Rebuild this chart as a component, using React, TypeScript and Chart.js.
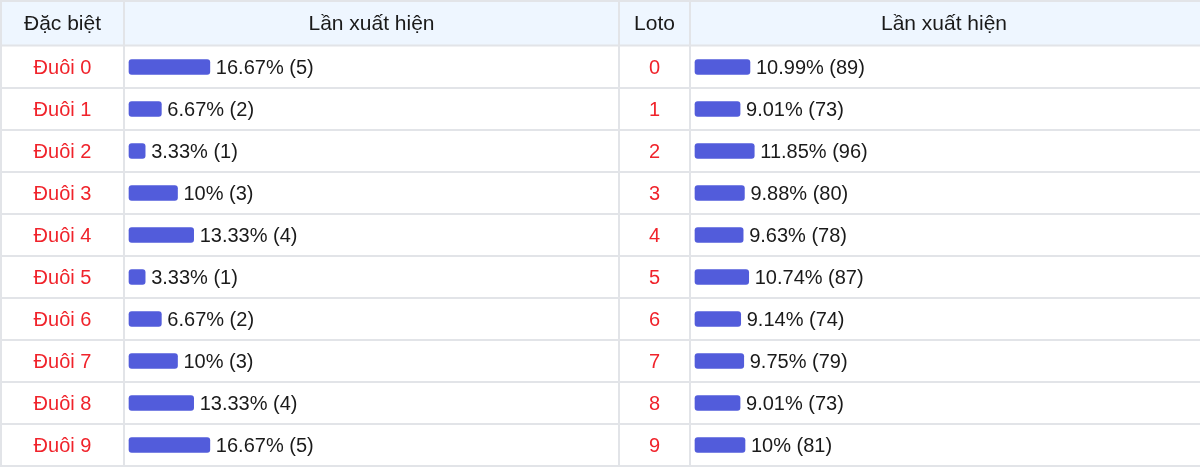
import React, { useEffect, useRef } from "react";
import { Chart, registerables } from "chart.js";

Chart.register(...registerables);

const rowKeys = ["0", "1", "2", "3", "4", "5", "6", "7", "8", "9"];
const leftLabels = ["Đuôi 0", "Đuôi 1", "Đuôi 2", "Đuôi 3", "Đuôi 4", "Đuôi 5", "Đuôi 6", "Đuôi 7", "Đuôi 8", "Đuôi 9"];
const leftPct = [16.67, 6.67, 3.33, 10, 13.33, 3.33, 6.67, 10, 13.33, 16.67];
const leftCount = [5, 2, 1, 3, 4, 1, 2, 3, 4, 5];
const rightLabels = ["0", "1", "2", "3", "4", "5", "6", "7", "8", "9"];
const rightPct = [10.99, 9.01, 11.85, 9.88, 9.63, 10.74, 9.14, 9.75, 9.01, 10];
const rightCount = [89, 73, 96, 80, 78, 87, 74, 79, 73, 81];
const headers = ["Đặc biệt", "Lần xuất hiện", "Loto", "Lần xuất hiện"];

const W = 1200;
const H = 468;
const colEdges = [1, 124, 619, 690, 1201];
const TOP = 1;
const HEAD_BOTTOM = 45.5;
const BOTTOM = 466;
const LEFT_BAR_START = 129;
const RIGHT_BAR_START = 695;
const LEFT_K = 4.85;
const RIGHT_K = 5;

const FONT = "Arial, 'Liberation Sans', sans-serif";
const BAR_COLOR = "#525cdb";
const RED = "#f0232b";
const LINE = "#e2e4e8";

const tablePlugin = {
  id: "tablePlugin",
  beforeDraw(chart: any) {
    const ctx = chart.ctx;
    ctx.save();
    ctx.fillStyle = "#ffffff";
    ctx.fillRect(0, 0, W, H);
    ctx.fillStyle = "#eef6ff";
    ctx.fillRect(colEdges[0], TOP, W - colEdges[0], HEAD_BOTTOM - TOP);
    ctx.strokeStyle = LINE;
    ctx.lineWidth = 2;
    const yScale = chart.scales.y;
    const rowLines: number[] = [TOP, HEAD_BOTTOM];
    const n = rowKeys.length;
    for (let i = 0; i < n; i++) {
      const c = yScale.getPixelForValue(i);
      const next = i < n - 1 ? yScale.getPixelForValue(i + 1) : c + (c - yScale.getPixelForValue(i - 1));
      rowLines.push((c + next) / 2);
    }
    ctx.beginPath();
    rowLines.forEach((y) => {
      ctx.moveTo(colEdges[0] - 1, y);
      ctx.lineTo(W, y);
    });
    colEdges.forEach((x) => {
      ctx.moveTo(x, TOP);
      ctx.lineTo(x, BOTTOM);
    });
    ctx.stroke();
    ctx.fillStyle = "#1a1a1a";
    ctx.font = `21px ${FONT}`;
    ctx.textAlign = "center";
    ctx.textBaseline = "middle";
    const headerCenters = [
      (colEdges[0] + colEdges[1]) / 2,
      (colEdges[1] + colEdges[2]) / 2,
      (colEdges[2] + colEdges[3]) / 2,
      (colEdges[3] + 1198) / 2,
    ];
    headers.forEach((h, i) => {
      ctx.fillText(h, headerCenters[i], (TOP + HEAD_BOTTOM) / 2 + 1);
    });
    ctx.restore();
  },
  afterDatasetsDraw(chart: any) {
    const ctx = chart.ctx;
    ctx.save();
    ctx.font = `20px ${FONT}`;
    ctx.textBaseline = "middle";
    const metaL = chart.getDatasetMeta(0);
    const metaR = chart.getDatasetMeta(1);
    rowKeys.forEach((_, i) => {
      const y = metaL.data[i].y + 1;
      ctx.fillStyle = RED;
      ctx.textAlign = "center";
      ctx.fillText(leftLabels[i], (colEdges[0] + colEdges[1]) / 2, y);
      ctx.fillText(rightLabels[i], (colEdges[2] + colEdges[3]) / 2, y);
      ctx.fillStyle = "#1a1a1a";
      ctx.textAlign = "left";
      ctx.fillText(`${leftPct[i]}% (${leftCount[i]})`, metaL.data[i].x + 6, y);
      ctx.fillText(`${rightPct[i]}% (${rightCount[i]})`, metaR.data[i].x + 6, y);
    });
    ctx.restore();
  },
};

export default function App() {
  const ref = useRef<HTMLCanvasElement | null>(null);
  useEffect(() => {
    document.body.style.margin = "0";
    const chart = new Chart(ref.current as HTMLCanvasElement, {
      type: "bar",
      data: {
        labels: rowKeys,
        datasets: [
          {
            data: leftPct,
            xAxisID: "xL",
            backgroundColor: BAR_COLOR,
            barThickness: 15,
            borderRadius: 3,
            borderSkipped: false,
            grouped: false,
          },
          {
            data: rightPct,
            xAxisID: "xR",
            backgroundColor: BAR_COLOR,
            barThickness: 15,
            borderRadius: 3,
            borderSkipped: false,
            grouped: false,
          },
        ],
      } as any,
      options: {
        indexAxis: "y",
        animation: false,
        responsive: false,
        maintainAspectRatio: false,
        layout: { padding: { top: HEAD_BOTTOM + 0.5, bottom: H - BOTTOM, left: 0, right: 0 } },
        plugins: { legend: { display: false }, tooltip: { enabled: false } },
        scales: {
          y: { type: "category", display: false, offset: true },
          xL: {
            type: "linear",
            display: false,
            min: -LEFT_BAR_START / LEFT_K,
            max: (W - LEFT_BAR_START) / LEFT_K,
          },
          xR: {
            type: "linear",
            display: false,
            min: -RIGHT_BAR_START / RIGHT_K,
            max: (W - RIGHT_BAR_START) / RIGHT_K,
          },
        },
      } as any,
      plugins: [tablePlugin],
    });
    return () => chart.destroy();
  }, []);
  return (
    <div style={{ position: "fixed", left: 0, top: 0, width: W, height: H }}>
      <canvas ref={ref} width={W} height={H} style={{ display: "block", width: W, height: H }} />
    </div>
  );
}
